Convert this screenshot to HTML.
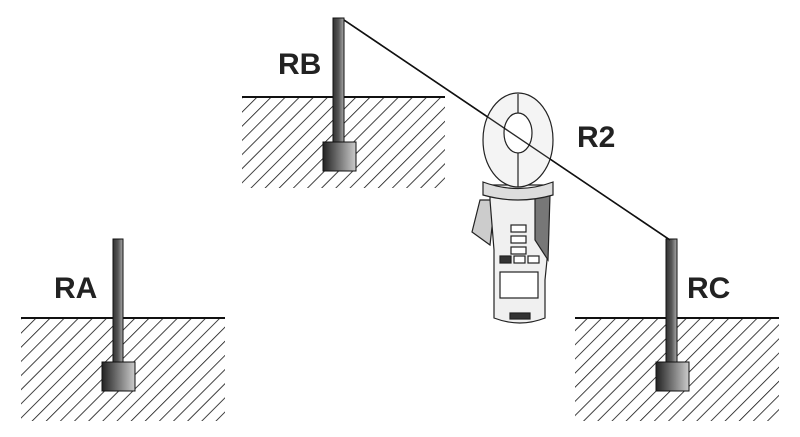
<!DOCTYPE html>
<html><head><style>html,body{margin:0;padding:0;background:#fff;width:800px;height:437px;overflow:hidden}</style></head>
<body>
<svg width="800" height="437" viewBox="0 0 800 437" xmlns="http://www.w3.org/2000/svg">
<defs>
<pattern id="h" patternUnits="userSpaceOnUse" width="10" height="10" patternTransform="rotate(45)">
<line x1="0" y1="0" x2="0" y2="10" stroke="#111" stroke-width="1.6"/>
</pattern>
<linearGradient id="pg" x1="0" x2="1" y1="0" y2="0">
<stop offset="0" stop-color="#333"/><stop offset="0.5" stop-color="#555"/><stop offset="1" stop-color="#aaa"/></linearGradient>
<linearGradient id="bg" x1="0" x2="1" y1="0" y2="0">
<stop offset="0" stop-color="#222"/><stop offset="1" stop-color="#ccc"/></linearGradient>
</defs>
<g font-family="Liberation Sans, sans-serif" font-weight="bold" font-size="30" fill="#222">
<text x="278" y="74">RB</text>
<text x="54" y="298">RA</text>
<text x="687" y="298">RC</text>
<text x="577" y="147">R2</text>
</g>
<rect x="242" y="98" width="203" height="90" fill="url(#h)"/>
<line x1="242" y1="97" x2="445" y2="97" stroke="#111" stroke-width="2"/>
<rect x="21" y="319" width="204" height="102" fill="url(#h)"/>
<line x1="21" y1="318" x2="225" y2="318" stroke="#111" stroke-width="2"/>
<rect x="575" y="319" width="204" height="102" fill="url(#h)"/>
<line x1="575" y1="318" x2="779" y2="318" stroke="#111" stroke-width="2"/>
<line x1="344" y1="20" x2="670" y2="240" stroke="#111" stroke-width="1.6"/>
<g stroke="#111" stroke-width="1">
<rect x="333" y="18" width="11" height="126" fill="url(#pg)"/>
<rect x="323" y="142" width="33" height="29" fill="url(#bg)"/>
<rect x="113" y="239" width="10" height="124" fill="url(#pg)"/>
<rect x="102" y="362" width="33" height="29" fill="url(#bg)"/>
<rect x="666" y="239" width="11" height="124" fill="url(#pg)"/>
<rect x="656" y="362" width="33" height="29" fill="url(#bg)"/>
</g>
<g stroke="#222" stroke-width="1.2">
<path d="M480 200 L472 232 L490 245 L495 200 Z" fill="#ccc"/>
<path d="M490 185 L550 185 L548 250 L545 280 L545 318 Q520 328 494 318 L494 250 L490 200 Z" fill="#f0f0f0"/>
<path d="M535 195 L550 195 L548 260 L535 240 Z" fill="#777"/>
<ellipse cx="518" cy="140" rx="35" ry="47" fill="#f4f4f4"/>
<ellipse cx="518" cy="133" rx="14" ry="20" fill="#fff"/>
<line x1="518" y1="94" x2="518" y2="113"/>
<line x1="518" y1="153" x2="518" y2="187"/>
<path d="M483 182 Q518 195 553 182 L553 195 Q518 205 483 195 Z" fill="#ddd"/>
<rect x="511" y="225" width="15" height="7" fill="#fff"/>
<rect x="511" y="236" width="15" height="7" fill="#fff"/>
<rect x="511" y="247" width="15" height="7" fill="#fff"/>
<rect x="500" y="256" width="11" height="7" fill="#333"/>
<rect x="514" y="256" width="11" height="7" fill="#fff"/>
<rect x="528" y="256" width="11" height="7" fill="#fff"/>
<rect x="500" y="272" width="38" height="26" fill="#fff"/>
<rect x="510" y="313" width="20" height="6" fill="#333"/>
</g>
<line x1="344" y1="20" x2="670" y2="240" stroke="#111" stroke-width="1.4" opacity="0.9"/>
</svg>
</body></html>
